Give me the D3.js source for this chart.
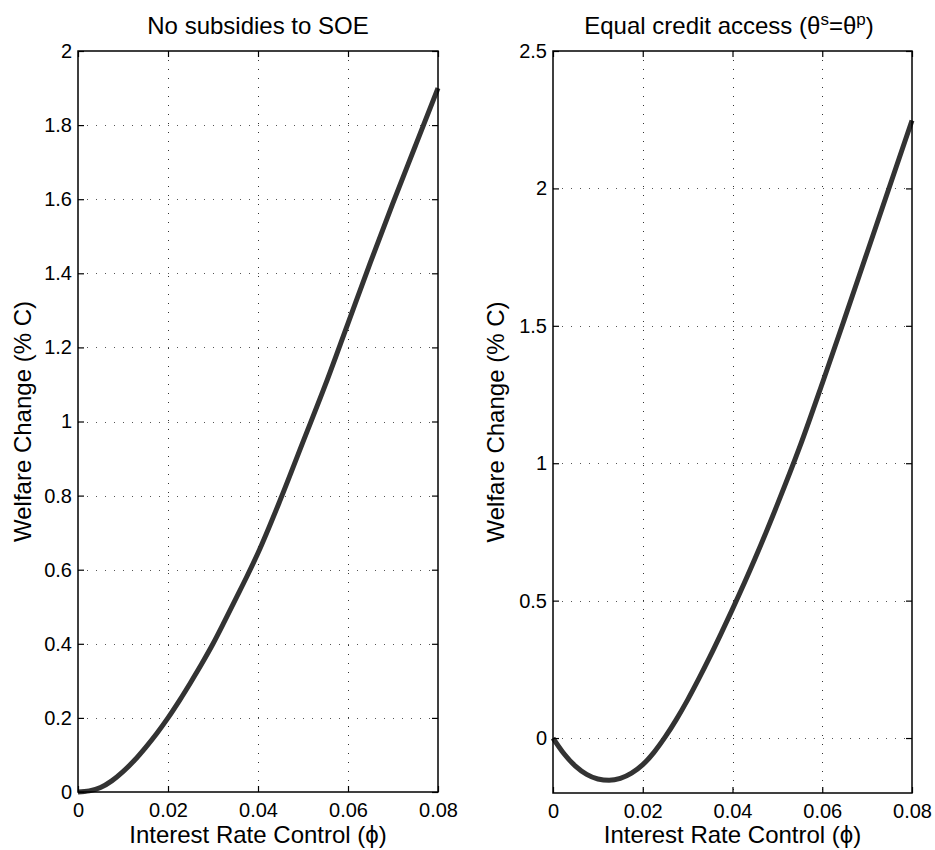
<!DOCTYPE html>
<html>
<head>
<meta charset="utf-8">
<script src="https://cdn.jsdelivr.net/npm/d3@7/dist/d3.min.js"></script>
<style>
  body { margin: 0; background: #ffffff; }
  text { font-family: "Liberation Sans", Arial, Helvetica, sans-serif; fill: #000; }
</style>
</head>
<body>
<div id="chart"></div>
<script>
// interest rate control (phi) grid
let phi = [0, 0.0025, 0.005, 0.0075, 0.01, 0.0125, 0.015, 0.0175, 0.02, 0.0225, 0.025, 0.0275,
           0.03, 0.0325, 0.035, 0.0375, 0.04, 0.045, 0.05, 0.055, 0.06, 0.065, 0.07, 0.075, 0.08];
// welfare change (% C), left panel: no subsidies to SOE
let welfareNoSubsidy = [0, 0.003, 0.012, 0.03, 0.055, 0.085, 0.12, 0.158, 0.20, 0.246, 0.295, 0.346,
                        0.40, 0.459, 0.52, 0.581, 0.645, 0.79, 0.945, 1.10, 1.265, 1.43, 1.59, 1.745, 1.90];
// welfare change (% C), right panel: equal credit access
let welfareEqualAccess = [0, -0.058, -0.102, -0.132, -0.149, -0.154, -0.147, -0.128, -0.097, -0.052, 0.004, 0.068,
                          0.139, 0.216, 0.297, 0.382, 0.469, 0.652, 0.850, 1.060, 1.290, 1.527, 1.767, 2.007, 2.247];
let xTicks = [0, 0.02, 0.04, 0.06, 0.08];
let yTicksLeft = [0, 0.2, 0.4, 0.6, 0.8, 1, 1.2, 1.4, 1.6, 1.8, 2];
let yTicksRight = [0, 0.5, 1, 1.5, 2, 2.5];

let svgWidth = 935;
let svgHeight = 850;
let tickLen = 6;

let svg = d3.select("#chart")
    .append("svg")
    .attr("width", svgWidth)
    .attr("height", svgHeight);

function drawPanel(cfg)
{
	let x = d3.scaleLinear().domain([0, 0.08]).range([cfg.left, cfg.right]);
	let y = d3.scaleLinear().domain(cfg.yDomain).range([cfg.bottom, cfg.top]);
	let g = svg.append("g");

	// dotted grid
	g.append("g").selectAll("line")
	    .data(xTicks.filter(d => d > 0 && d < 0.08))
	    .join("line")
	    .attr("x1", d => Math.round(x(d)) + 0.5)
	    .attr("x2", d => Math.round(x(d)) + 0.5)
	    .attr("y1", cfg.top)
	    .attr("y2", cfg.bottom)
	    .attr("stroke", "#333")
	    .attr("stroke-width", 1)
	    .attr("stroke-dasharray", "1 8");
	g.append("g").selectAll("line")
	    .data(cfg.yTicks.filter(d => d > cfg.yDomain[0] && d < cfg.yDomain[1]))
	    .join("line")
	    .attr("x1", cfg.left)
	    .attr("x2", cfg.right)
	    .attr("y1", d => Math.round(y(d)) + 0.5)
	    .attr("y2", d => Math.round(y(d)) + 0.5)
	    .attr("stroke", "#555")
	    .attr("stroke-width", 1)
	    .attr("stroke-dasharray", "1 8");

	// curve
	let line = d3.line()
	    .x((d, i) => x(phi[i]))
	    .y(d => y(d))
	    .curve(d3.curveMonotoneX);
	g.append("path")
	    .datum(cfg.values)
	    .attr("d", line)
	    .attr("fill", "none")
	    .attr("stroke", "#333333")
	    .attr("stroke-width", 5)
	    .attr("stroke-linecap", "butt");

	// axes, ticks pointing inwards on all four sides
	let fmt = d3.format("~g");
	let axB = g.append("g").attr("transform", "translate(0," + cfg.bottom + ")")
	    .call(d3.axisBottom(x).tickValues(xTicks).tickSizeInner(-tickLen).tickSizeOuter(0).tickPadding(11).tickFormat(fmt));
	let axT = g.append("g").attr("transform", "translate(0," + cfg.top + ")")
	    .call(d3.axisTop(x).tickValues(xTicks).tickSizeInner(-tickLen).tickSizeOuter(0).tickFormat(""));
	let axL = g.append("g").attr("transform", "translate(" + cfg.left + ",0)")
	    .call(d3.axisLeft(y).tickValues(cfg.yTicks).tickSizeInner(-tickLen).tickSizeOuter(0).tickPadding(6).tickFormat(fmt));
	let axR = g.append("g").attr("transform", "translate(" + cfg.right + ",0)")
	    .call(d3.axisRight(y).tickValues(cfg.yTicks).tickSizeInner(-tickLen).tickSizeOuter(0).tickFormat(""));
	[axB, axT, axL, axR].forEach(a => {
		a.select(".domain").remove();
		a.selectAll(".tick line").attr("stroke", "#000").attr("stroke-width", 1.2);
		a.selectAll("text").attr("font-size", 20).attr("font-family", null);
	});

	// frame
	g.append("rect")
	    .attr("x", cfg.left)
	    .attr("y", cfg.top)
	    .attr("width", cfg.right - cfg.left)
	    .attr("height", cfg.bottom - cfg.top)
	    .attr("fill", "none")
	    .attr("stroke", "#000")
	    .attr("stroke-width", 1.5);

	// labels
	g.append("text")
	    .attr("x", (cfg.left + cfg.right) / 2)
	    .attr("y", 843)
	    .attr("text-anchor", "middle")
	    .attr("font-size", 24)
	    .text("Interest Rate Control (\u03d5)");
	g.append("text")
	    .attr("transform", "translate(" + cfg.yLabelX + "," + (cfg.top + cfg.bottom) / 2 + ") rotate(-90)")
	    .attr("text-anchor", "middle")
	    .attr("font-size", 24)
	    .text("Welfare Change (% C)");
	let title = g.append("text")
	    .attr("x", cfg.titleX)
	    .attr("y", 34)
	    .attr("text-anchor", "middle")
	    .attr("font-size", 24);
	cfg.title.forEach(part => {
		let t = title.append("tspan").text(part.text);
		if (part.sup) t.attr("baseline-shift", "super").attr("font-size", 17);
	});
}

drawPanel({
	left: 78, right: 438, top: 51, bottom: 792,
	yDomain: [0, 2], yTicks: yTicksLeft, values: welfareNoSubsidy,
	yLabelX: 31, titleX: 258,
	title: [{text: "No subsidies to SOE"}]
});
drawPanel({
	left: 553, right: 912, top: 51, bottom: 793,
	yDomain: [-0.2, 2.5], yTicks: yTicksRight, values: welfareEqualAccess,
	yLabelX: 504, titleX: 729,
	title: [{text: "Equal credit access (\u03b8"}, {text: "s", sup: true}, {text: "=\u03b8"}, {text: "p", sup: true}, {text: ")"}]
});
</script>
</body>
</html>
